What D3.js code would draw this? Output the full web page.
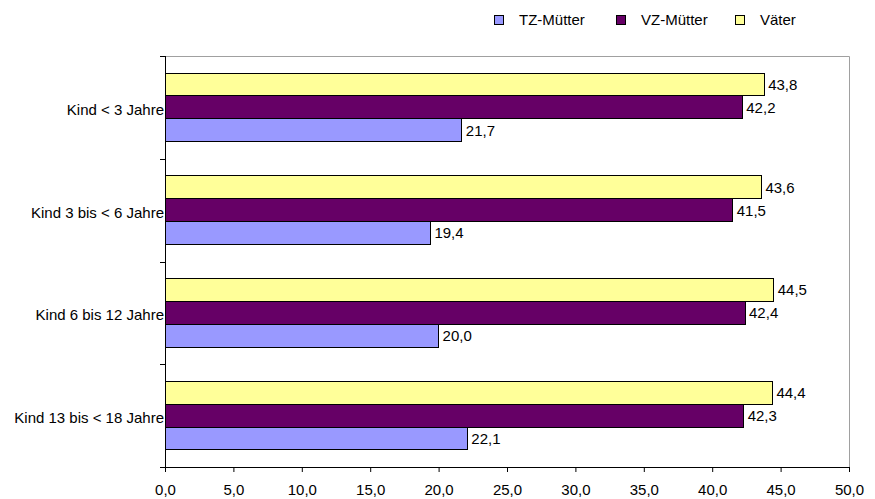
<!DOCTYPE html>
<html>
<head>
<meta charset="utf-8">
<script src="https://cdn.jsdelivr.net/npm/d3@7/dist/d3.min.js"></script>
<style>
  html, body { margin: 0; padding: 0; background: #fff; }
  svg text { font-family: Arial, "Liberation Sans", sans-serif; fill: #000; }
</style>
</head>
<body>
<svg id="chart" width="875" height="499"></svg>
<script>
// Wöchentliche Arbeitszeit nach Alter des jüngsten Kindes
const categories = ["Kind < 3 Jahre", "Kind 3 bis < 6 Jahre", "Kind 6 bis 12 Jahre", "Kind 13 bis < 18 Jahre"];
const seriesNames = ["TZ-Mütter", "VZ-Mütter", "Väter"];
const tzMuetter = [21.7, 19.4, 20.0, 22.1];
const vzMuetter = [42.2, 41.5, 42.4, 42.3];
const vaeter = [43.8, 43.6, 44.5, 44.4];
const xTicks = [0, 5, 10, 15, 20, 25, 30, 35, 40, 45, 50];

const seriesValues = { "TZ-Mütter": tzMuetter, "VZ-Mütter": vzMuetter, "Väter": vaeter };
const colors = { "TZ-Mütter": "#9999ff", "VZ-Mütter": "#660066", "Väter": "#ffff99" };
// bars are stacked top to bottom in reverse legend order
const barOrder = ["Väter", "VZ-Mütter", "TZ-Mütter"];

const de = d3.formatLocale({ decimal: ",", thousands: ".", grouping: [3], currency: ["", " €"] });
const fmt = de.format(".1f");

const svg = d3.select("#chart");
const fontSize = "15px";

const plot = { left: 165, right: 849, top: 56, bottom: 467 };

const x = d3.scaleLinear().domain([0, 50]).range([plot.left, plot.right]);
const y0 = d3.scaleBand().domain(categories).range([plot.top, plot.bottom])
  .paddingInner(1 / 3).paddingOuter(1 / 6);
const y1 = d3.scaleBand().domain(barOrder).range([0, y0.bandwidth()]);

// plot frame (top and right sides)
svg.append("path")
  .attr("d", `M${plot.left},${plot.top + 0.5}H${plot.right + 0.5}V${plot.bottom}`)
  .attr("fill", "none").attr("stroke", "#a0a0a0").attr("stroke-width", 1);

// bars
const groups = svg.append("g").selectAll("g")
  .data(categories).join("g")
  .attr("transform", d => `translate(0,${y0(d)})`);

groups.selectAll("rect")
  .data((c, i) => barOrder.map(s => ({ s, v: seriesValues[s][i] })))
  .join("rect")
  .attr("x", x(0))
  .attr("y", d => y1(d.s))
  .attr("width", d => x(d.v) - x(0))
  .attr("height", y1.bandwidth())
  .attr("fill", d => colors[d.s])
  .attr("stroke", "#000")
  .attr("stroke-width", 1)
  .attr("shape-rendering", "crispEdges");

groups.selectAll("text.val")
  .data((c, i) => barOrder.map(s => ({ s, v: seriesValues[s][i] })))
  .join("text")
  .attr("class", "val")
  .attr("x", d => x(d.v) + 4)
  .attr("y", d => y1(d.s) + y1.bandwidth() / 2)
  .attr("dy", "0.36em")
  .style("font-size", fontSize)
  .text(d => fmt(d.v));

// x axis
const xAxis = d3.axisBottom(x).tickValues(xTicks).tickFormat(fmt).tickSize(5).tickPadding(12);
const gx = svg.append("g").attr("transform", `translate(0,${plot.bottom})`).call(xAxis);
gx.select(".domain").attr("stroke", "#000").attr("d", `M${plot.left},0.5H${plot.right}`);
gx.selectAll(".tick line").attr("stroke", "#000");
gx.selectAll(".tick text").style("font-size", fontSize).attr("font-family", null);

// y axis: line with ticks at category boundaries
const step = y0.step();
const boundaries = categories.map(c => y0(c) - step * y0.paddingInner() / 2);
boundaries.push(plot.bottom);
const gy = svg.append("g");
gy.append("line")
  .attr("x1", plot.left + 0.5).attr("x2", plot.left + 0.5)
  .attr("y1", plot.top).attr("y2", plot.bottom)
  .attr("stroke", "#000");
gy.selectAll("line.tick").data(boundaries).join("line")
  .attr("class", "tick")
  .attr("x1", plot.left - 5).attr("x2", plot.left)
  .attr("y1", d => Math.round(d) + 0.5).attr("y2", d => Math.round(d) + 0.5)
  .attr("stroke", "#000");
gy.selectAll("text").data(categories).join("text")
  .attr("x", plot.left - 1)
  .attr("y", d => y0(d) + y0.bandwidth() / 2 + 2)
  .attr("dy", "0.36em")
  .attr("text-anchor", "end")
  .style("font-size", fontSize)
  .text(d => d);

// legend
const legendX = [494, 616, 735];
const legend = svg.append("g").selectAll("g").data(seriesNames).join("g")
  .attr("transform", (d, i) => `translate(${legendX[i]},15)`);
legend.append("rect")
  .attr("x", 0.5).attr("y", 0.5).attr("width", 9).attr("height", 9)
  .attr("fill", d => colors[d]).attr("stroke", "#000").attr("stroke-width", 1);
legend.append("text")
  .attr("x", 25).attr("y", 5).attr("dy", "0.36em")
  .style("font-size", fontSize)
  .text(d => d);
</script>
</body>
</html>
